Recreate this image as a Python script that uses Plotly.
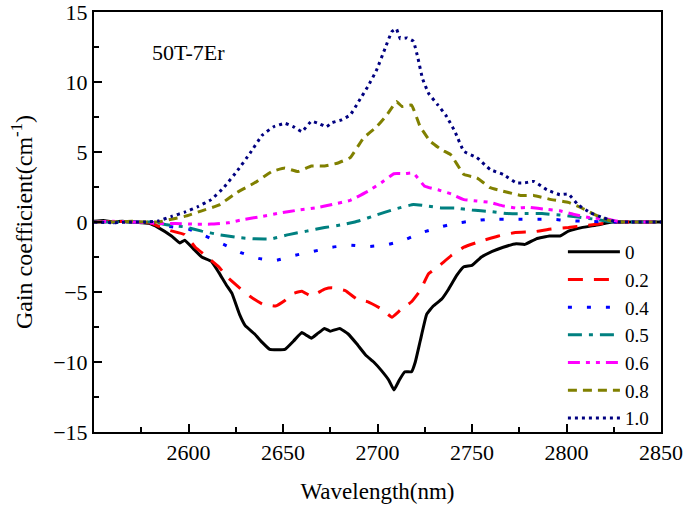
import plotly.graph_objects as go

names = ["0", "0.2", "0.4", "0.5", "0.6", "0.8", "1.0"]
colors = ["#000000", "#FF0000", "#0000FF", "#008080", "#FF00FF", "#808000", "#000080"]
dashes = ["solid", "15px,11px", "4px,15px", "14px,7px,4px,7px", "12px,6px,4px,6px,4px,6px", "9px,6px", "3px,4px"]

x0 = [2550, 2555, 2560, 2565, 2570, 2575, 2579, 2584, 2591, 2595.5, 2598, 2602.5, 2607, 2612, 2616, 2620, 2623, 2627, 2630,
      2635, 2639, 2643, 2651, 2655.6, 2660, 2662.5, 2665, 2668, 2672, 2675, 2680, 2684.5, 2689, 2693.7, 2698,
      2702, 2706, 2708.7, 2711.5, 2714.5, 2718, 2720, 2722.6, 2726, 2729.5, 2734, 2737.6, 2742, 2745.7, 2750,
      2755, 2760.7, 2766.5, 2773.4, 2778, 2784, 2791, 2796.5, 2801, 2808, 2817, 2824, 2830, 2840, 2850]
y0 = [0.05, 0.1, 0.0, 0.05, 0.0, -0.05, -0.1, -0.4, -1.0, -1.5, -1.3, -1.9, -2.5, -2.8, -3.6, -4.5, -5.1, -6.6, -7.4,
      -8.0, -8.6, -9.1, -9.1, -8.5, -7.9, -8.1, -8.3, -8.0, -7.6, -7.8, -7.6, -8.0, -8.7, -9.5, -10.0,
      -10.6, -11.3, -12.0, -11.3, -10.7, -10.7, -10.0, -8.5, -6.6, -6.0, -5.5, -4.8, -3.8, -3.2, -3.1,
      -2.5, -2.1, -1.8, -1.55, -1.6, -1.2, -1.0, -1.0, -0.65, -0.4, -0.2, 0.0, 0.0, 0.0, 0.0]

x2 = [2550, 2560, 2570, 2580, 2584, 2590, 2598, 2603.6, 2609, 2616, 2621, 2627, 2632.5, 2639, 2646, 2651, 2655.6, 2660,
      2665, 2672, 2676, 2683, 2689, 2695, 2702, 2707.6, 2712, 2718, 2722.6, 2727, 2732, 2739, 2745.7, 2755,
      2764, 2773, 2782.7, 2792, 2801, 2810, 2819.6, 2826.5, 2840, 2850]
y2 = [0.0, 0.05, 0.0, -0.05, -0.3, -0.6, -0.9, -1.8, -2.4, -3.2, -4.0, -4.7, -5.3, -5.85, -6.0, -5.6, -5.1, -4.95,
      -5.3, -4.8, -4.7, -4.9, -5.5, -5.7, -6.2, -6.8, -6.3, -5.7, -4.9, -3.7, -3.2, -2.4, -1.8, -1.35,
      -1.0, -0.75, -0.7, -0.5, -0.4, -0.25, -0.1, 0.0, 0.0, 0.0]

x4 = [2550, 2560, 2570, 2580, 2588.6, 2600, 2609, 2618.6, 2628, 2637, 2646, 2655.6, 2666, 2676, 2685.6, 2695, 2704,
      2713, 2722.6, 2732, 2741, 2750, 2759.6, 2773, 2782.7, 2792, 2801, 2810, 2824, 2835, 2850]
y4 = [0.0, -0.05, 0.0, 0.0, -0.3, -0.5, -1.0, -1.6, -2.2, -2.6, -2.75, -2.4, -2.1, -1.8, -1.65, -1.75, -1.65,
      -1.35, -0.8, -0.4, -0.1, 0.07, 0.2, 0.2, 0.2, 0.2, 0.1, 0.05, 0.0, 0.0, 0.0]

x5 = [2550, 2560, 2570, 2581.6, 2588.6, 2598, 2607, 2616, 2625.5, 2635, 2644, 2653, 2662.5, 2672, 2681, 2690, 2699.5,
      2708.7, 2719, 2726, 2734, 2741, 2750, 2759.6, 2768.8, 2778, 2787, 2796.5, 2806, 2815, 2824, 2835, 2850]
y5 = [0.0, 0.0, 0.0, 0.0, -0.2, -0.35, -0.65, -0.9, -1.1, -1.2, -1.2, -0.9, -0.65, -0.4, -0.2, 0.07, 0.5,
      0.9, 1.25, 1.15, 1.0, 1.0, 0.85, 0.75, 0.6, 0.6, 0.6, 0.5, 0.35, 0.2, 0.0, 0.0, 0.0]

x6 = [2550, 2560, 2570, 2578, 2584, 2593, 2602.5, 2612, 2621, 2630, 2639, 2648.7, 2658, 2667, 2676, 2685.6, 2695, 2702,
      2708.7, 2714.5, 2719, 2725, 2732, 2739, 2745.7, 2752.6, 2759.6, 2766.5, 2773.4, 2780, 2789.6, 2796.5,
      2803.5, 2812.7, 2822, 2829, 2840, 2850]
y6 = [0.0, 0.05, 0.0, -0.05, -0.1, -0.1, -0.15, -0.15, -0.05, 0.2, 0.4, 0.65, 0.85, 1.0, 1.25, 1.55, 2.2, 2.8,
      3.45, 3.45, 3.5, 2.55, 2.3, 2.0, 1.6, 1.5, 1.4, 1.15, 1.0, 1.05, 0.9, 0.8,
      0.55, 0.3, 0.2, 0.0, 0.0, 0.0]

x8 = [2550, 2560, 2570, 2578, 2584, 2591, 2598, 2607, 2616, 2625.5, 2635, 2644, 2651, 2658, 2665, 2672, 2678.7, 2685.6,
      2692.6, 2699.5, 2705, 2710, 2713, 2718, 2722.6, 2728, 2734, 2738.8, 2745.7, 2752.6, 2759.6, 2766.5,
      2775.7, 2782.7, 2792, 2801, 2808, 2817, 2824, 2830, 2840, 2850]
y8 = [0.0, 0.0, 0.05, 0.0, 0.0, 0.2, 0.4, 0.8, 1.2, 2.1, 2.8, 3.6, 3.85, 3.6, 4.0, 4.0, 4.2, 4.6,
      6.0, 6.8, 7.65, 8.6, 8.25, 8.35, 6.8, 5.75, 5.15, 4.8, 3.4, 3.15, 2.45, 2.2,
      1.9, 1.9, 1.6, 1.4, 1.0, 0.4, 0.05, 0.0, 0.0, 0.0]

x10 = [2550, 2560, 2570, 2578, 2584, 2591, 2598, 2605, 2612, 2618.6, 2625.5, 2632.5, 2639, 2645, 2651, 2655.6, 2660,
       2665, 2669.5, 2673, 2676, 2681, 2685.6, 2690, 2695, 2699.5, 2704, 2707.6, 2710, 2712, 2715.7, 2719,
       2721.4, 2723.8, 2727, 2732, 2736.5, 2741, 2745.7, 2752.6, 2759.6, 2766.5, 2773.4, 2778, 2782.7, 2789.6,
       2796.5, 2801, 2806, 2812.7, 2819.6, 2826.5, 2835, 2850]
y10 = [0.0, -0.05, 0.0, 0.0, 0.07, 0.4, 0.7, 1.1, 1.6, 2.45, 3.6, 4.9, 6.2, 6.8, 7.05, 6.8, 6.45,
       7.2, 7.0, 6.8, 7.1, 7.3, 7.65, 8.6, 9.7, 10.85, 12.4, 13.6, 13.8, 13.1, 13.15, 12.9,
       11.7, 10.25, 9.2, 8.35, 7.55, 6.45, 5.05, 4.6, 3.75, 3.4, 2.8, 2.8, 2.9, 2.3,
       1.95, 2.0, 1.25, 0.65, 0.3, 0.0, 0.0, 0.0]

xs = [x0, x2, x4, x5, x6, x8, x10]
ys = [y0, y2, y4, y5, y6, y8, y10]

x_ticks = [2600, 2650, 2700, 2750, 2800, 2850]
x_minor = [2575, 2625, 2675, 2725, 2775, 2825]
y_ticks = [-15, -10, -5, 0, 5, 10, 15]
y_minor = [-12.5, -7.5, -2.5, 2.5, 7.5, 12.5]

fig = go.Figure()
for n, c, d, xv, yv in zip(names, colors, dashes, xs, ys):
    fig.add_trace(go.Scatter(x=xv, y=yv, mode="lines", name=n,
                             line=dict(color=c, width=3, dash=d, shape="spline", smoothing=0.3)))

FF = "Liberation Serif, Times New Roman, serif"
fig.update_layout(
    width=685, height=506,
    margin=dict(l=94, r=24, t=12, b=74, autoexpand=False),
    plot_bgcolor="white", paper_bgcolor="white",
    font=dict(family=FF, size=22, color="black"),
    showlegend=True,
    legend=dict(x=0.827, y=0.474, xanchor="left", yanchor="top", bgcolor="rgba(0,0,0,0)",
                font=dict(family=FF, size=19, color="black"), itemwidth=52, tracegroupgap=0),
    annotations=[dict(x=2600, y=12.1, xref="x", yref="y", text="50T-7Er", showarrow=False,
                      font=dict(family=FF, size=22, color="black"), xanchor="center", yanchor="middle")],
)
fig.update_xaxes(range=[2550, 2850], tickmode="array", tickvals=x_ticks,
                 ticks="inside", ticklen=8, tickwidth=2, tickcolor="black",
                 minor=dict(tickmode="array", tickvals=x_minor, ticks="inside", ticklen=5, tickwidth=2, tickcolor="black"),
                 showline=True, mirror=True, linecolor="black", linewidth=2, showgrid=False, zeroline=False,
                 automargin=False, ticklabeloverflow="allow",
                 title=dict(text="Wavelength(nm)", font=dict(family=FF, size=23, color="black"), standoff=18),
                 tickfont=dict(family=FF, size=22, color="black"))
fig.update_yaxes(range=[-15, 15], tickmode="array", tickvals=y_ticks,
                 ticks="inside", ticklen=8, tickwidth=2, tickcolor="black",
                 minor=dict(tickmode="array", tickvals=y_minor, ticks="inside", ticklen=5, tickwidth=2, tickcolor="black"),
                 showline=True, mirror=True, linecolor="black", linewidth=2, showgrid=False, zeroline=False,
                 automargin=False, ticklabeloverflow="allow",
                 title=dict(text="Gain coefficient(cm<sup>-1</sup>)", font=dict(family=FF, size=24, color="black"), standoff=14),
                 tickfont=dict(family=FF, size=22, color="black"))

fig.write_html("out.html", config={"displayModeBar": False},
               post_script="document.body.style.margin='0px';")
